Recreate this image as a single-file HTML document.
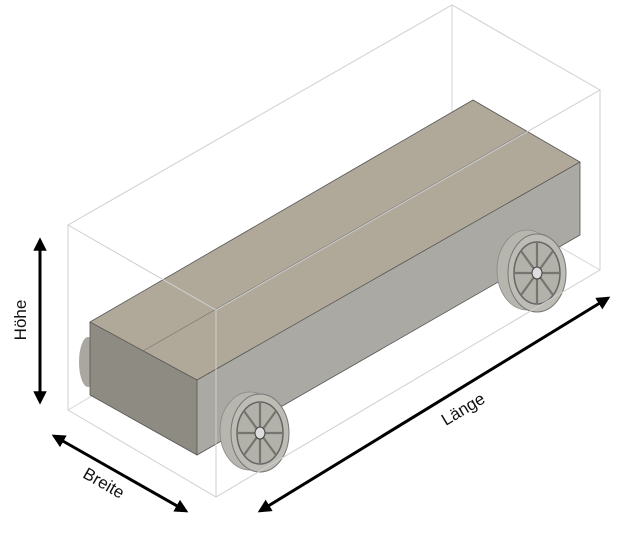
<!DOCTYPE html>
<html><head><meta charset="utf-8"><style>
body{margin:0;background:#fff;width:618px;height:529px;overflow:hidden}
</style></head><body>
<svg width="618" height="529" viewBox="0 0 618 529" xmlns="http://www.w3.org/2000/svg" font-family="Liberation Sans, sans-serif">
<defs>
<marker id="ah" viewBox="0 0 10 10" refX="8" refY="5" markerWidth="4.5" markerHeight="4.5" orient="auto-start-reverse"><path d="M0,0 L10,5 L0,10 z" fill="#000"/></marker>
</defs>
<g stroke="#d6d6d6" stroke-width="1" fill="none">
<polyline points="452,5 452,185 600,270"/>
<line x1="452" y1="185" x2="68" y2="410"/>
</g>
<ellipse cx="88" cy="362" rx="9" ry="25" fill="#a9a79f"/>
<polygon points="90,322 473,100 580,162 197,380" fill="#b0a999"/>
<polygon points="197,380 580,162 580,235 197,455" fill="#aaa9a3"/>
<polygon points="90,322 197,380 197,455 90,395" fill="#8e8b82"/>
<line x1="143" y1="351" x2="527" y2="131" stroke="#777" stroke-width="0.7"/>
<g stroke="#555" stroke-width="0.8" fill="none">
<polygon points="90,322 473,100 580,162 197,380"/>
<polyline points="197,380 197,455 580,235 580,162"/>
<polyline points="90,322 90,395 197,455"/>
</g>
<g>
<ellipse cx="250" cy="431" rx="30" ry="39" fill="#b7b6ae" stroke="#888" stroke-width="0.8"/>
<ellipse cx="260" cy="433" rx="29" ry="39" fill="#bdbcb5" stroke="#777" stroke-width="1"/>
<ellipse cx="260" cy="433" rx="23" ry="31" fill="#b2b1aa" stroke="#666" stroke-width="1.5"/>
<g stroke="#76756f" stroke-width="2.2">
<line x1="260" y1="403" x2="260" y2="463"/><line x1="238" y1="433" x2="282" y2="433"/>
<line x1="244" y1="411" x2="276" y2="455"/><line x1="276" y1="411" x2="244" y2="455"/>
</g>
<ellipse cx="260" cy="433" rx="5" ry="6" fill="#ddd" stroke="#444"/>
</g>
<g>
<ellipse cx="527" cy="270" rx="30" ry="40" fill="#b7b6ae" stroke="#888" stroke-width="0.8"/>
<ellipse cx="537" cy="273" rx="29" ry="39" fill="#bdbcb5" stroke="#777" stroke-width="1"/>
<ellipse cx="537" cy="273" rx="23" ry="31" fill="#b2b1aa" stroke="#666" stroke-width="1.5"/>
<g stroke="#76756f" stroke-width="2.2">
<line x1="537" y1="243" x2="537" y2="303"/><line x1="515" y1="273" x2="559" y2="273"/>
<line x1="521" y1="251" x2="553" y2="295"/><line x1="553" y1="251" x2="521" y2="295"/>
</g>
<ellipse cx="537" cy="273" rx="5" ry="6" fill="#ddd" stroke="#444"/>
</g>
<g stroke="#cfcfcf" stroke-width="1" fill="none">
<polygon points="68,225 452,5 600,90 216,310"/>
<polyline points="68,225 68,410 216,497 600,270 600,90"/>
<line x1="216" y1="310" x2="216" y2="497"/>
</g>
<g stroke="#000" stroke-width="3" marker-start="url(#ah)" marker-end="url(#ah)">
<line x1="40" y1="240" x2="40" y2="402"/>
<line x1="54" y1="436" x2="186" y2="511"/>
<line x1="260" y1="511" x2="608" y2="298"/>
</g>
<g font-size="17" fill="#111">
<text transform="translate(26,320) rotate(-90)" text-anchor="middle">Höhe</text>
<text transform="translate(101,488) rotate(30)" text-anchor="middle">Breite</text>
<text transform="translate(466,414) rotate(-31)" text-anchor="middle">Länge</text>
</g>
</svg>
</body></html>
